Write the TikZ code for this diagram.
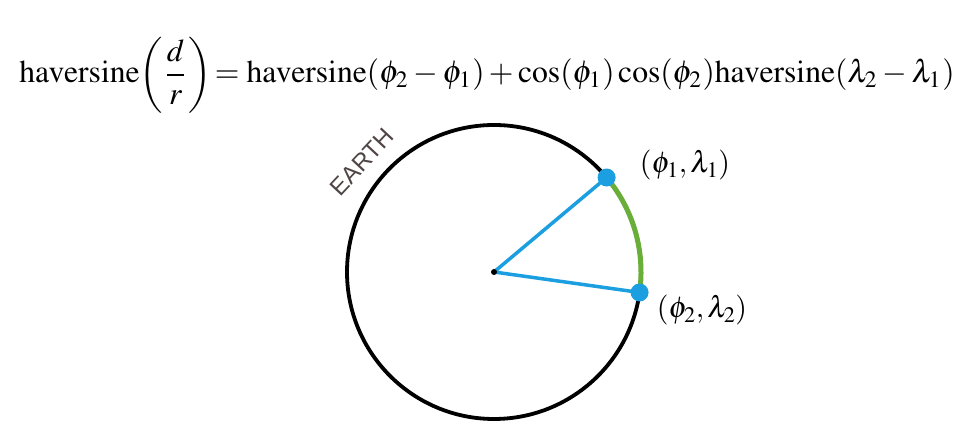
\documentclass[tikz,border=0pt]{standalone}
\usepackage{mathptmx}
\usepackage{fontspec}
\setmainfont{Liberation Serif}
\setsansfont{Liberation Sans}
\usetikzlibrary{calc}
\definecolor{ptblue}{HTML}{1C9FE0}
\definecolor{arcgreen}{HTML}{6AAE3A}
\definecolor{earthtxt}{HTML}{504545}
\tikzset{
  earth/.style={draw=black, line width=3.8pt},
  radius line/.style={draw=ptblue, line width=3.5pt},
  dist arc/.style={draw=arcgreen, line width=5pt},
  ptdot/.style={circle, fill=ptblue, inner sep=0pt, minimum size=18pt},
  coordlabel/.style={font=\fontsize{30}{32}\selectfont, inner sep=0pt}
}
\begin{document}
\begin{tikzpicture}[x=1pt,y=1pt]
\useasboundingbox (0,0) rectangle (965,427);
\fill[white] (0,0) rectangle (965,427);
% formula
\node[inner sep=0pt] (formula) at (487,352) {\resizebox{935pt}{!}{$\displaystyle\mathrm{haversine}\!\left(\frac{d}{r}\right)\!=\mathrm{haversine}(\phi_2-\phi_1)+\cos(\phi_1)\cos(\phi_2)\mathrm{haversine}(\lambda_2-\lambda_1)$}};
% earth
\coordinate (c) at (494,155);
\draw[earth] (c) circle[radius=147];
\draw[dist arc] ($(c)+(40:147)$) arc[start angle=40, end angle=-8, radius=147];
\coordinate (p1) at ($(c)+(40:147)$);
\coordinate (p2) at ($(c)+(-8:147)$);
\draw[radius line] (c) -- (p1);
\draw[radius line] (c) -- (p2);
\node[ptdot] (d1) at (p1) {};
\node[ptdot] (d2) at (p2) {};
\fill[black] (c) circle[radius=3];
\node[coordlabel] (l1) at (685,262) {$(\phi_1,\lambda_1)$};
\node[coordlabel] (l2) at (702,117) {$(\phi_2,\lambda_2)$};
\node[font=\sffamily\fontsize{24}{26}\selectfont, text=earthtxt, rotate=47, inner sep=0pt] (earthlbl) at (362,265) {EARTH};
\end{tikzpicture}
\end{document}
